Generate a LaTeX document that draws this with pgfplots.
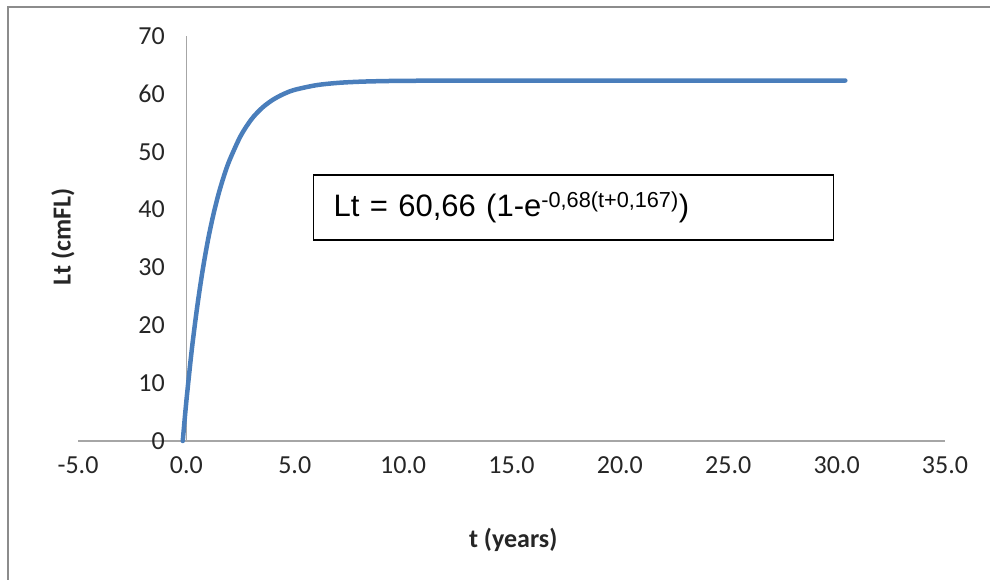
\documentclass[border=0pt]{standalone}
\usepackage{pgfplots}
\pgfplotsset{compat=1.18}
\usepackage{fontspec}
\setmainfont{Carlito}
\newfontfamily\arialf{Liberation Sans}
\definecolor{curve}{HTML}{4A7EBB}
\definecolor{axgray}{HTML}{A6A6A6}
\definecolor{framegray}{HTML}{8C8C8C}
\begin{document}
\begin{tikzpicture}[x=1pt,y=1pt]
\useasboundingbox (0,0) rectangle (990,579);
\draw[framegray, line width=2.5pt] (8,-5) -- (8,572) -- (995,572);
\begin{axis}[
  at={(78pt,138pt)}, anchor=south west,
  scale only axis, width=867pt, height=405pt,
  xmin=-5, xmax=35, ymin=0, ymax=70,
  axis x line=bottom, axis y line=middle,
  axis line style={-, axgray, line width=1.5pt},
  major tick length=0pt,
  hide obscured x ticks=false, hide obscured y ticks=false,
  xtick={-5,0,5,10,15,20,25,30,35},
  xticklabels={-5.0,0.0,5.0,10.0,15.0,20.0,25.0,30.0,35.0},
  ytick={0,10,20,30,40,50,60,70},
  yticklabels={0,10,20,30,40,50,60,70},
  tick label style={font=\fontsize{26}{30}\selectfont, text=black!85},
  xticklabel style={yshift=-12pt},
  yticklabel style={xshift=-18pt},
  clip=false,
]
\addplot[curve, line width=4.5pt, line join=round, line cap=round, smooth] coordinates {
(-0.167,0) (0,6.9) (0.25,15.8) (0.5,23.2) (0.75,29.5) (1,34.8) (1.25,39.2)
(1.5,42.9) (1.75,46.0) (2,48.6) (2.5,52.7) (3,55.6) (3.5,57.6) (4,59.0)
(4.5,60.0) (5,60.7) (6,61.5) (7,61.9) (8,62.1) (9,62.2) (10,62.25)
(12,62.29) (15,62.30) (20,62.30) (25,62.30) (30.4,62.30)
};
\node[font=\fontsize{26}{30}\selectfont\bfseries, text=black!85, anchor=center]
  at (axis description cs:0.502,-0.244) {t (years)};
\node[font=\fontsize{26}{30}\selectfont\bfseries, text=black!85, anchor=center, rotate=90]
  at (axis description cs:-0.0173,0.504) {Lt (cmFL)};
\node[draw=black, line width=1.5pt, fill=white, anchor=west,
  minimum width=520pt, minimum height=65pt, text width=480pt, align=left,
  inner xsep=20pt, font=\arialf\fontsize{31}{36}\selectfont]
  at (axis description cs:0.271,0.5765) {Lt = 60,66 (1-e\textsuperscript{-0,68(t+0,167)})};
\end{axis}
\end{tikzpicture}
\end{document}
